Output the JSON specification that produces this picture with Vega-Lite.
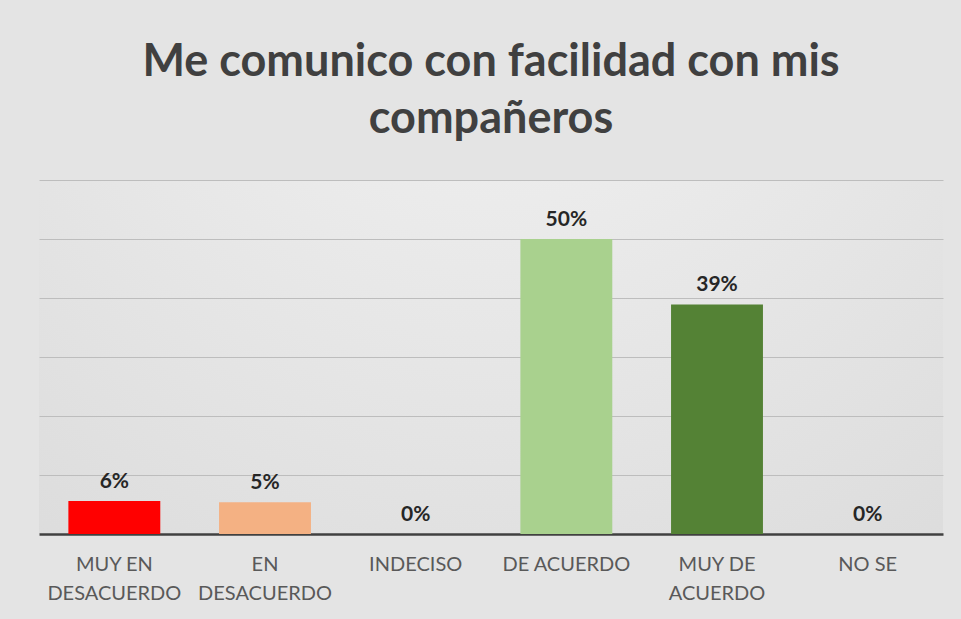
{
  "$schema": "https://vega.github.io/schema/vega-lite/v6.json",
  "autosize": "none",
  "width": 904,
  "height": 354,
  "padding": {"left": 39, "top": 180, "right": 18, "bottom": 85},
  "background": "#e4e4e4",
  "title": {
    "text": ["Me comunico con facilidad con mis", "compañeros"],
    "font": "Lato",
    "fontSize": 45,
    "fontWeight": "bold",
    "color": "#404040",
    "lineHeight": 57,
    "anchor": "middle",
    "offset": 38
  },
  "config": {
    "view": {
      "stroke": null,
      "fill": {
        "gradient": "radial",
        "x1": 0.5, "y1": 0.0, "r1": 0,
        "x2": 0.5, "y2": 0.0, "r2": 1.1,
        "stops": [
          {"offset": 0, "color": "#f4f4f4"},
          {"offset": 1, "color": "#d6d6d6"}
        ]
      }
    }
  },
  "data": {
    "values": [
      {"cat": "MUY EN DESACUERDO", "pct": 0.056},
      {"cat": "EN DESACUERDO", "pct": 0.054},
      {"cat": "INDECISO", "pct": 0.0},
      {"cat": "DE ACUERDO", "pct": 0.5},
      {"cat": "MUY DE ACUERDO", "pct": 0.389},
      {"cat": "NO SE", "pct": 0.0}
    ]
  },
  "encoding": {
    "x": {
      "field": "cat",
      "type": "nominal",
      "sort": null,
      "scale": {"paddingInner": 0.39, "paddingOuter": 0.195},
      "axis": {
        "title": null,
        "labelAngle": 0,
        "labelFont": "Lato",
        "labelFontSize": 20,
        "labelColor": "#595959",
        "labelLineHeight": 29,
        "labelPadding": 20,
        "labelBaseline": "top",
        "ticks": false,
        "domainColor": "#404040",
        "domainWidth": 2.5,
        "labelExpr": "datum.value == 'MUY EN DESACUERDO' ? ['MUY EN', 'DESACUERDO'] : datum.value == 'EN DESACUERDO' ? ['EN', 'DESACUERDO'] : datum.value == 'MUY DE ACUERDO' ? ['MUY DE', 'ACUERDO'] : datum.value"
      }
    },
    "y": {
      "field": "pct",
      "type": "quantitative",
      "scale": {"domain": [0, 0.6], "nice": false},
      "axis": {
        "title": null,
        "labels": false,
        "ticks": false,
        "domain": false,
        "values": [0.1, 0.2, 0.3, 0.4, 0.5, 0.6],
        "gridColor": "#bdbdbd",
        "gridWidth": 1.2
      }
    }
  },
  "layer": [
    {
      "mark": {"type": "bar"},
      "encoding": {
        "color": {
          "field": "cat",
          "type": "nominal",
          "legend": null,
          "scale": {
            "domain": ["MUY EN DESACUERDO", "EN DESACUERDO", "INDECISO", "DE ACUERDO", "MUY DE ACUERDO", "NO SE"],
            "range": ["#ff0000", "#f4b183", "#bdd7ee", "#a9d18e", "#548235", "#7f7f7f"]
          }
        }
      }
    },
    {
      "mark": {"type": "text", "baseline": "bottom", "dy": -9, "font": "Lato", "fontSize": 21, "fontWeight": "bold", "color": "#262626"},
      "encoding": {
        "text": {"field": "pct", "type": "quantitative", "format": ".0%"}
      }
    }
  ]
}
